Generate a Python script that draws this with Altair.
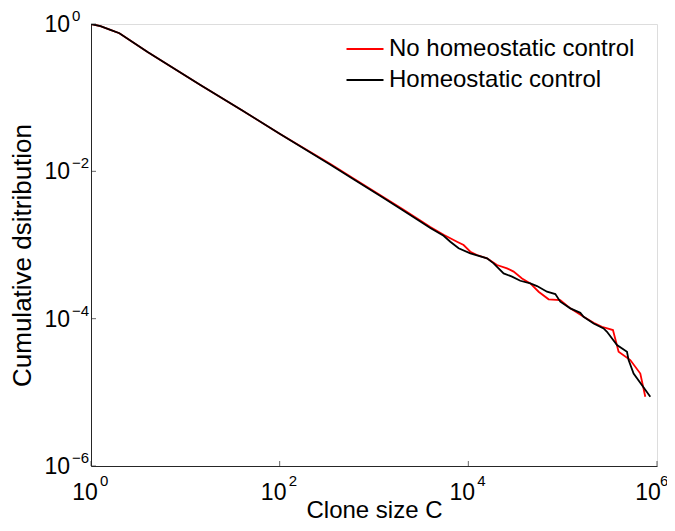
import altair as alt
import pandas as pd

# ---- data ----
black_C = [1, 1.26, 1.58, 2, 3.98, 14.3, 39.8, 100, 342, 631, 1216, 1982, 3097, 3954,
           5470, 6442, 7889, 10500, 15780, 18530, 23660, 29040, 35560, 45390, 53460,
           68230, 83560, 94410, 120500, 153800, 166700, 212800, 271600, 295100,
           376700, 480800, 500000, 564900, 849200]
black_P = [1, 0.933, 0.841, 0.750, 0.417, 0.150, 0.0676, 0.0324, 0.01236, 0.00755,
           0.00447, 0.00302, 0.00209, 0.0017, 0.001334, 0.001109, 0.000902, 0.000771,
           0.000659, 0.000564, 0.000412, 0.000372, 0.000327, 0.000301, 0.000277,
           0.000232, 0.000216, 0.000170, 0.000138, 0.000120, 0.000106, 0.0000861,
           0.0000736, 0.0000664, 0.0000438, 0.0000355, 0.0000274, 0.0000180, 0.0000087]

red_C = [1, 1.26, 1.58, 2, 3.98, 14.3, 39.8, 100, 342, 631, 1216, 1982, 3097, 3954,
         5470, 7586, 8913, 10500, 12360, 15780, 20140, 25700, 30200, 37070, 45390,
         55590, 70960, 94410, 120500, 166700, 212800, 260600, 341200, 391700,
         521200, 665300, 751600]
red_P = [1, 0.933, 0.841, 0.750, 0.417, 0.150, 0.0676, 0.0324, 0.01265, 0.00775,
         0.0046, 0.0031, 0.00215, 0.00175, 0.00138, 0.001109, 0.001, 0.000811,
         0.000731, 0.000659, 0.000535, 0.000482, 0.000435, 0.000352, 0.000301,
         0.000232, 0.000183, 0.000179, 0.000138, 0.000106, 0.0000879, 0.0000776,
         0.00007, 0.0000355, 0.0000274, 0.000018, 0.0000087]

series_names = ["No homeostatic control", "Homeostatic control"]
series_colors = ["#ff0000", "#000000"]

x_ticks = [1, 100, 10000, 1000000]
x_exps = ["0", "2", "4", "6"]
y_ticks = [1, 0.01, 0.0001, 0.000001]
y_exps = ["0", "\u22122", "\u22124", "\u22126"]

FONT = "Liberation Sans"

red_df = pd.DataFrame({"C": red_C, "P": red_P, "series": series_names[0]})
black_df = pd.DataFrame({"C": black_C, "P": black_P, "series": series_names[1]})
xt_df = pd.DataFrame({"v": x_ticks, "base": "10", "exp": x_exps})
yt_df = pd.DataFrame({"v": y_ticks, "base": "10", "exp": y_exps})
xt_inner = xt_df.iloc[:-1]
xt_last = xt_df.iloc[-1:]

xscale = alt.Scale(type="log", domain=[1, 1e6], nice=False)
yscale = alt.Scale(type="log", domain=[1e-6, 1], nice=False)

xaxis = alt.Axis(title="Clone size C", ticks=False, labels=False, grid=False,
                 domainColor="#262626", domainWidth=1, titleFont=FONT,
                 titleFontSize=24, titleFontWeight="normal", titleColor="black",
                 titleY=51, titleBaseline="alphabetic")
yaxis = alt.Axis(title="Cumulative dsitribution", ticks=False, labels=False,
                 grid=False, domainColor="#262626", domainWidth=1, titleFont=FONT,
                 titleFontSize=26, titleFontWeight="normal", titleColor="black",
                 titleX=-69, titleY=231, titleAngle=270, titleBaseline="middle",
                 titleAlign="center")

color = alt.Color("series:N",
                  scale=alt.Scale(domain=series_names, range=series_colors),
                  legend=alt.Legend(title=None, orient="none", legendX=262, legendY=13,
                                    symbolType="M-2,0H2", symbolSize=342,
                                    symbolStrokeWidth=1.8, labelFont=FONT,
                                    labelFontSize=24, labelColor="black",
                                    labelOffset=12, labelLimit=0, rowPadding=7,
                                    padding=0))


def lines(df):
    return alt.Chart(df).mark_line(strokeWidth=1.8, clip=True).encode(
        x=alt.X("C:Q", scale=xscale, axis=xaxis),
        y=alt.Y("P:Q", scale=yscale, axis=yaxis),
        color=color,
    )


def xlabels(df, base_dx, exp_dx):
    base = alt.Chart(df).mark_text(font=FONT, fontSize=23, align="center",
                                   baseline="middle", dx=base_dx, dy=27,
                                   color="black").encode(
        x=alt.X("v:Q", scale=xscale, axis=xaxis),
        y=alt.YDatum(1e-6, scale=yscale, axis=yaxis),
        text="base:N",
    )
    exp = alt.Chart(df).mark_text(font=FONT, fontSize=15, align="left",
                                  baseline="middle", dx=exp_dx, dy=15,
                                  color="black").encode(
        x=alt.X("v:Q", scale=xscale, axis=xaxis),
        y=alt.YDatum(1e-6, scale=yscale, axis=yaxis),
        text="exp:N",
    )
    return base + exp


red_line = lines(red_df)
black_line = lines(black_df)

x_tickmarks = alt.Chart(xt_df).mark_tick(orient="vertical", size=5, thickness=1,
                                         color="#262626", yOffset=-2.5).encode(
    x=alt.X("v:Q", scale=xscale, axis=xaxis),
    y=alt.YDatum(1e-6, scale=yscale, axis=yaxis),
)
y_tickmarks = alt.Chart(yt_df).mark_tick(orient="horizontal", size=5, thickness=1,
                                         color="#262626", xOffset=2.5).encode(
    x=alt.XDatum(1, scale=xscale, axis=xaxis),
    y=alt.Y("v:Q", scale=yscale, axis=yaxis),
)

x_lab_inner = xlabels(xt_inner, -6, 9)
x_lab_last = xlabels(xt_last, -9, 3)

y_base = alt.Chart(yt_df).mark_text(font=FONT, fontSize=23, align="right",
                                    baseline="middle", dx=-21, dy=1,
                                    color="black").encode(
    x=alt.XDatum(1, scale=xscale, axis=xaxis),
    y=alt.Y("v:Q", scale=yscale, axis=yaxis),
    text="base:N",
)
y_exp = alt.Chart(yt_df).mark_text(font=FONT, fontSize=15, align="left",
                                   baseline="middle", dx=-19, dy=-8,
                                   color="black").encode(
    x=alt.XDatum(1, scale=xscale, axis=xaxis),
    y=alt.Y("v:Q", scale=yscale, axis=yaxis),
    text="exp:N",
)

chart = alt.layer(
    red_line, black_line, x_tickmarks, y_tickmarks, x_lab_inner, x_lab_last,
    y_base, y_exp
).properties(
    width=566, height=442,
    autosize=alt.AutoSizeParams(type="none"),
    padding={"left": 83, "top": 16, "right": 10, "bottom": 57},
).configure_view(stroke=None).configure(background="white")

chart.save("out.html", embed_options={"renderer": "svg", "actions": False})
